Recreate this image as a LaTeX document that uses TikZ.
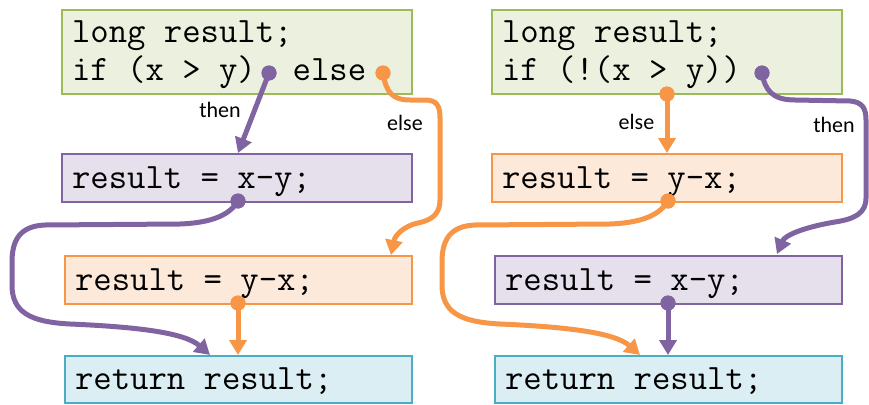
\documentclass[tikz,border=0pt]{standalone}
\usepackage{fontspec}
\setsansfont{Carlito}
\usetikzlibrary{arrows.meta}
\definecolor{gfill}{HTML}{EBF1DE}
\definecolor{gline}{HTML}{9BBB59}
\definecolor{pfill}{HTML}{E5E0EC}
\definecolor{pline}{HTML}{8064A2}
\definecolor{ofill}{HTML}{FDE9D9}
\definecolor{oline}{HTML}{F79646}
\definecolor{bfill}{HTML}{DBEEF3}
\definecolor{bline}{HTML}{4BACC6}
\begin{document}
\begin{tikzpicture}[x=1pt,y=-1pt,
  codebox/.style={draw, line width=2pt, rectangle, anchor=north west, outer sep=0pt,
    inner xsep=10pt, inner ysep=0pt,
    font=\ttfamily\fontsize{35.7}{37}\selectfont, text height=22pt, text depth=2pt,
    execute at begin node={\spaceskip=\fontdimen2\font\xspaceskip=\fontdimen2\font\relax}},
  wide/.style={minimum width=350pt, text width=330pt},
  narrow/.style={minimum width=347pt, text width=327pt},
  boxgreen/.style={codebox, wide, fill=gfill, draw=gline, minimum height=84pt, text height=20pt, text depth=38pt},
  boxpurple/.style={codebox, fill=pfill, draw=pline, minimum height=48pt},
  boxorange/.style={codebox, fill=ofill, draw=oline, minimum height=48pt},
  boxblue/.style={codebox, narrow, fill=bfill, draw=bline, minimum height=47pt},
  dotp/.style={circle, fill=pline, minimum size=15pt, inner sep=0pt, outer sep=0pt},
  doto/.style={circle, fill=oline, minimum size=15pt, inner sep=0pt, outer sep=0pt},
  arrp/.style={draw=pline, line width=5pt, -{Triangle[length=15pt,width=17pt]}},
  arro/.style={draw=oline, line width=5pt, -{Triangle[length=15pt,width=17pt]}},
  lbl/.style={font=\sffamily\fontsize{22}{26}\selectfont, inner sep=0pt}
]
\useasboundingbox (0,0) rectangle (869,404);

% left column
\node[boxgreen] (L1) at (62,10) {long result;\\if (x > y)\ \ else};
\node[boxpurple, wide] (L2) at (62,154) {result = x-y;};
\node[boxorange, narrow] (L3) at (65,256) {result = y-x;};
\node[boxblue] (L4) at (65,356) {return result;};

% right column
\node[boxgreen] (R1) at (492,10) {long result;\\if (!(x > y))};
\node[boxorange, wide] (R2) at (492,154) {result = y-x;};
\node[boxpurple, narrow] (R3) at (495,256) {result = x-y;};
\node[boxblue] (R4) at (495,356) {return result;};

% dots
\node[dotp] (Lthen) at (269,73) {};
\node[doto] (Lelse) at (383,73) {};
\node[dotp] (L2out) at (238,201) {};
\node[doto] (L3out) at (238,303) {};
\node[doto] (Relse) at (667,94) {};
\node[dotp] (Rthen) at (762,73) {};
\node[doto] (R2out) at (668,201) {};
\node[dotp] (R3out) at (668,303) {};

% arrow ends
\coordinate (L2in) at (238,153);
\coordinate (L3in) at (391,255);
\coordinate (L4inp) at (210,355);
\coordinate (L4ino) at (238,355);
\coordinate (R2in) at (667,153);
\coordinate (R3in) at (777,254);
\coordinate (R4ino) at (640,355);
\coordinate (R4inp) at (668,355);

% left connectors
\draw[arrp] (Lthen.center) -- (L2in);
\draw[arro] (Lelse.center) .. controls (386,92) and (392,100) .. (410,100) -- (425,100)
  .. controls (437,100) and (440,106) .. (440,118) -- (440,200)
  .. controls (440,214) and (432,220) .. (418,223)
  .. controls (404,226) and (395,235) .. (L3in);
\draw[arrp] (L2out.center) .. controls (228,218) and (205,223) .. (180,224) -- (45,225)
  .. controls (20,226) and (12,240) .. (12,262) -- (12,285)
  .. controls (12,312) and (30,322) .. (70,324)
  .. controls (140,327) and (185,333) .. (L4inp);
\draw[arro] (L3out.center) -- (L4ino);

% right connectors
\draw[arro] (Relse.center) -- (R2in);
\draw[arrp] (Rthen.center) .. controls (765,90) and (772,100) .. (795,100) -- (850,101)
  .. controls (862,102) and (866,108) .. (866,120) -- (866,198)
  .. controls (866,213) and (855,219) .. (835,222)
  .. controls (805,227) and (785,235) .. (R3in);
\draw[arro] (R2out.center) .. controls (658,218) and (635,223) .. (610,224) -- (475,225)
  .. controls (450,226) and (442,240) .. (442,262) -- (442,285)
  .. controls (442,312) and (460,322) .. (500,324)
  .. controls (570,327) and (615,333) .. (R4ino);
\draw[arrp] (R3out.center) -- (R4inp);

% dots on top
\fill[pline] (Lthen) circle (7.5pt) (L2out) circle (7.5pt) (Rthen) circle (7.5pt) (R3out) circle (7.5pt);
\fill[oline] (Lelse) circle (7.5pt) (L3out) circle (7.5pt) (Relse) circle (7.5pt) (R2out) circle (7.5pt);

% labels
\node[lbl] (lthenlbl) at (220,109.5) {then};
\node[lbl] (lelselbl) at (405,122.5) {else};
\node[lbl] (relselbl) at (636.5,121.5) {else};
\node[lbl] (rthenlbl) at (834,125) {then};
\end{tikzpicture}
\end{document}
